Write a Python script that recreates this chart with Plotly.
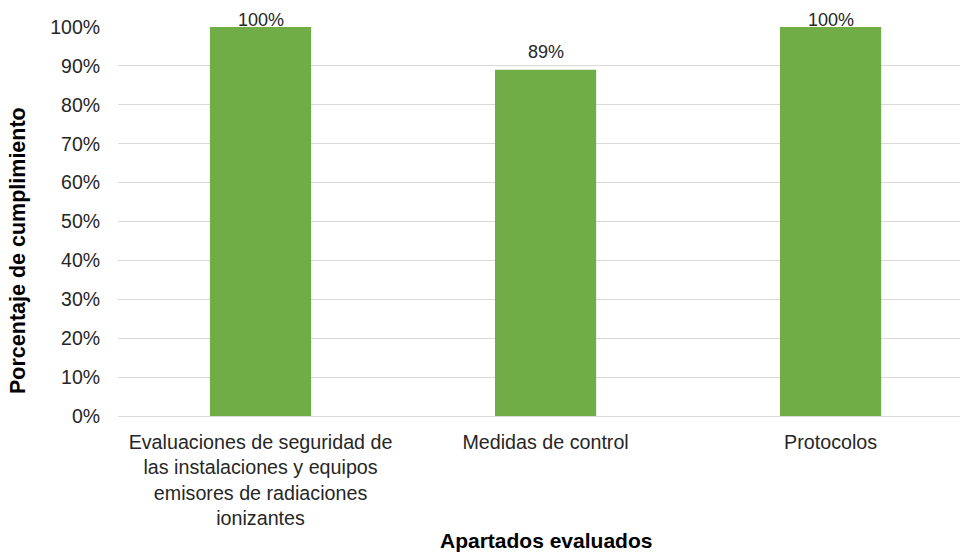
import plotly.graph_objects as go

categories = [
    "Evaluaciones de seguridad de<br>las instalaciones y equipos<br>emisores de radiaciones<br>ionizantes",
    "Medidas de control",
    "Protocolos",
]
values = [100, 89, 100]
y_ticks = [0, 10, 20, 30, 40, 50, 60, 70, 80, 90, 100]
y_tick_labels = [f"{t}%" for t in y_ticks]
x_title = "Apartados evaluados"
y_title = "Porcentaje de cumplimiento"

FONT = "Liberation Sans, Arial, sans-serif"

fig = go.Figure()
fig.add_trace(go.Bar(
    x=list(range(len(categories))),
    y=values,
    width=0.355,
    marker=dict(color="#70ad47", line=dict(width=0)),
    hoverinfo="skip",
))

for i, v in enumerate(values):
    fig.add_annotation(
        x=i, y=min(v + 2.8, 100), xref="x", yref="y",
        text=f"{v}%", showarrow=False, yanchor="bottom", xanchor="center",
        font=dict(family=FONT, size=18, color="#262626"),
        yshift=-5,
    )

# axis titles
fig.add_annotation(
    x=1, y=-0.3213, xref="x", yref="paper",
    text=f"<b>{x_title}</b>", showarrow=False, xanchor="center", yanchor="middle",
    font=dict(family=FONT, size=21, color="#000000"),
)
fig.add_annotation(
    x=-0.1188, y=0.4267, xref="paper", yref="paper",
    text=f"<b>{y_title}</b>", showarrow=False, xanchor="center", yanchor="middle",
    textangle=-90,
    font=dict(family=FONT, size=21.5, color="#000000"),
)

fig.update_layout(
    width=960, height=552,
    margin=dict(l=118, r=0, t=27, b=136),
    paper_bgcolor="white", plot_bgcolor="white",
    showlegend=False,
    bargap=0.6,
)
fig.update_xaxes(
    range=[-0.5, 2.454],
    tickmode="array",
    tickvals=list(range(len(categories))),
    ticktext=categories,
    tickfont=dict(family=FONT, size=19.7, color="#262626"),
    showgrid=False,
    showline=False,
    zeroline=False,
    automargin=False,
    ticks="outside", ticklen=8, tickcolor="rgba(0,0,0,0)",
)
fig.update_yaxes(
    range=[0, 100],
    tickmode="array",
    tickvals=y_ticks,
    ticktext=y_tick_labels,
    tickfont=dict(family=FONT, size=19.5, color="#262626"),
    showgrid=True, gridcolor="#d9d9d9", gridwidth=1,
    zeroline=True, zerolinecolor="#d9d9d9", zerolinewidth=1,
    showline=False,
    automargin=False,
    ticks="outside", ticklen=13, tickcolor="rgba(0,0,0,0)",
)

fig.write_html(
    "out.html",
    config={"displayModeBar": False},
    post_script="document.body.style.margin='0px';document.body.style.overflow='hidden';",
)
